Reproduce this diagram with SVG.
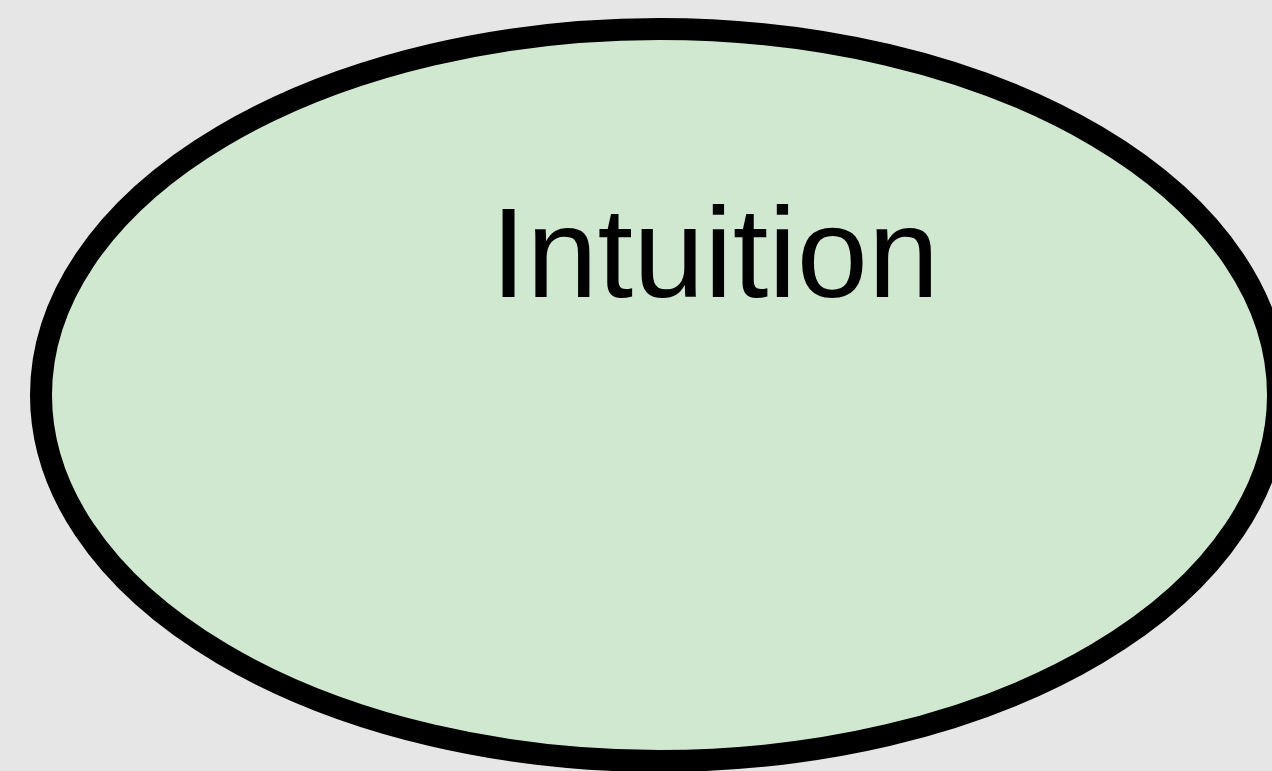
<svg xmlns="http://www.w3.org/2000/svg" width="1272" height="771" viewBox="0 0 1272 771">
<style>
.node{fill:#d0e8d0;stroke:#000;stroke-width:22}
.label{font-family:"Liberation Sans",Arial,sans-serif;font-size:128px;fill:#000;text-anchor:middle}
</style>
<rect width="1272" height="771" fill="#e6e6e6"/>
<g id="connectors"></g>
<g id="intuition">
<ellipse class="node" cx="659.5" cy="395" rx="618.5" ry="366"/>
<text class="label" x="715" y="297">Intuition</text>
</g>
</svg>
